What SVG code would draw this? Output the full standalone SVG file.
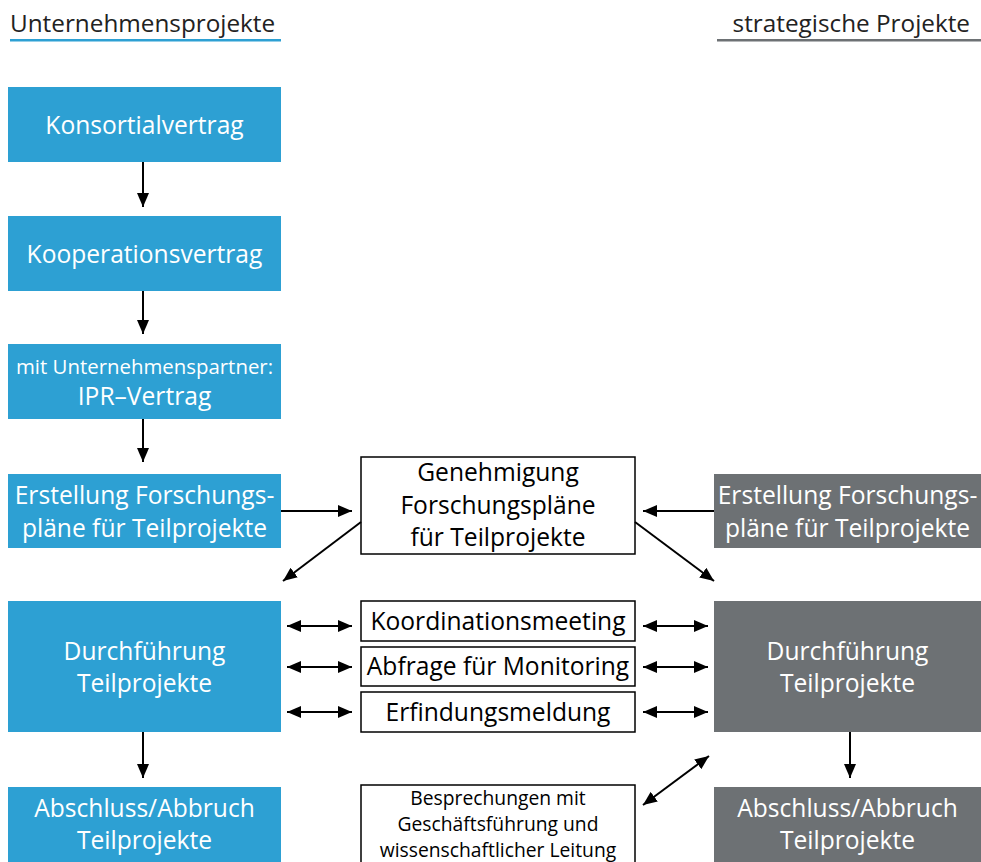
<svg xmlns="http://www.w3.org/2000/svg" width="981" height="862" viewBox="0 0 981 862">
<defs>
<marker id="a" viewBox="0 0 14 12" refX="14" refY="6" markerWidth="14" markerHeight="12" markerUnits="userSpaceOnUse" orient="auto-start-reverse">
<path d="M0,0 L14,6 L0,12 z" fill="#000"/>
</marker>
</defs>
<style>
text{font-family:"Open Sans","Noto Sans","Liberation Sans",sans-serif;text-anchor:middle}
.b{fill:#2da0d3}
.g{fill:#6d7174}
.w{fill:#fff;stroke:#000;stroke-width:1.5}
.tw{fill:#fff;font-size:24.6px}
.tk{fill:#000;font-size:24.6px}
.s{font-size:20.4px}
.xs{font-size:19.3px}
.c line{stroke:#000;stroke-width:2;marker-end:url(#a)}
.c line.d{marker-start:url(#a)}
</style>
<rect width="981" height="862" fill="#fff"/>
<g id="header-left">
<text x="10" y="32" style="text-anchor:start;font-size:24.3px" fill="#222">Unternehmensprojekte</text>
<rect x="10" y="39" width="271" height="2.5" fill="#2da0d3"/>
</g>
<g id="header-right">
<text x="970" y="32" style="text-anchor:end;font-size:24.3px" fill="#222">strategische Projekte</text>
<rect x="717" y="39" width="264" height="2.5" fill="#6d7174"/>
</g>
<g id="konsortialvertrag"><rect class="b" x="8" y="87" width="273" height="75"/><text class="tw" x="144.5" y="134">Konsortialvertrag</text></g>
<g id="kooperationsvertrag"><rect class="b" x="8" y="216" width="273" height="75"/><text class="tw" x="144.5" y="263">Kooperationsvertrag</text></g>
<g id="ipr-vertrag"><rect class="b" x="8" y="344" width="273" height="75"/><text class="tw s" x="144.5" y="374">mit Unternehmenspartner:</text><text class="tw" x="144.5" y="405">IPR–Vertrag</text></g>
<g id="erstellung-links"><rect class="b" x="8" y="474" width="273" height="74"/><text class="tw" x="144.5" y="504">Erstellung Forschungs-</text><text class="tw" x="144.5" y="537">pläne für Teilprojekte</text></g>
<g id="durchfuehrung-links"><rect class="b" x="8" y="601" width="273" height="131"/><text class="tw" x="144.5" y="660">Durchführung</text><text class="tw" x="144.5" y="692">Teilprojekte</text></g>
<g id="abschluss-links"><rect class="b" x="8" y="787" width="273" height="75"/><text class="tw" x="144.5" y="817">Abschluss/Abbruch</text><text class="tw" x="144.5" y="849">Teilprojekte</text></g>
<g id="genehmigung"><rect class="w" x="361" y="457" width="274" height="97"/><text class="tk" x="498" y="481">Genehmigung</text><text class="tk" x="498" y="514">Forschungspläne</text><text class="tk" x="498" y="546">für Teilprojekte</text></g>
<g id="koordinationsmeeting"><rect class="w" x="361" y="601" width="274" height="40"/><text class="tk" x="498" y="630">Koordinationsmeeting</text></g>
<g id="abfrage"><rect class="w" x="361" y="647" width="274" height="39"/><text class="tk" x="498" y="675">Abfrage für Monitoring</text></g>
<g id="erfindungsmeldung"><rect class="w" x="361" y="692" width="274" height="40"/><text class="tk" x="498" y="721">Erfindungsmeldung</text></g>
<g id="besprechungen"><rect class="w" x="361" y="785" width="274" height="82"/><text class="tk xs" x="498" y="805">Besprechungen mit</text><text class="tk xs" x="498" y="831">Geschäftsführung und</text><text class="tk xs" x="498" y="857">wissenschaftlicher Leitung</text></g>
<g id="erstellung-rechts"><rect class="g" x="714" y="474" width="267" height="74"/><text class="tw" x="847.5" y="504">Erstellung Forschungs-</text><text class="tw" x="847.5" y="537">pläne für Teilprojekte</text></g>
<g id="durchfuehrung-rechts"><rect class="g" x="714" y="601" width="267" height="131"/><text class="tw" x="847.5" y="660">Durchführung</text><text class="tw" x="847.5" y="692">Teilprojekte</text></g>
<g id="abschluss-rechts"><rect class="g" x="714" y="787" width="267" height="75"/><text class="tw" x="847.5" y="817">Abschluss/Abbruch</text><text class="tw" x="847.5" y="849">Teilprojekte</text></g>
<g id="connectors" class="c">
<line x1="143" y1="162" x2="143" y2="207"/>
<line x1="143" y1="291" x2="143" y2="334"/>
<line x1="143" y1="419" x2="143" y2="462"/>
<line x1="143" y1="732" x2="143" y2="778"/>
<line x1="850" y1="732" x2="850" y2="778"/>
<line x1="281" y1="511" x2="352" y2="511"/>
<line x1="714" y1="511" x2="643" y2="511"/>
<line x1="361" y1="522" x2="283" y2="581"/>
<line x1="635" y1="522" x2="714" y2="581"/>
<line class="d" x1="287" y1="626" x2="352" y2="626"/>
<line class="d" x1="287" y1="667" x2="352" y2="667"/>
<line class="d" x1="287" y1="712" x2="352" y2="712"/>
<line class="d" x1="643" y1="626" x2="708" y2="626"/>
<line class="d" x1="643" y1="667" x2="708" y2="667"/>
<line class="d" x1="643" y1="712" x2="708" y2="712"/>
<line class="d" x1="643" y1="805" x2="709" y2="756"/>
</g>
</svg>
